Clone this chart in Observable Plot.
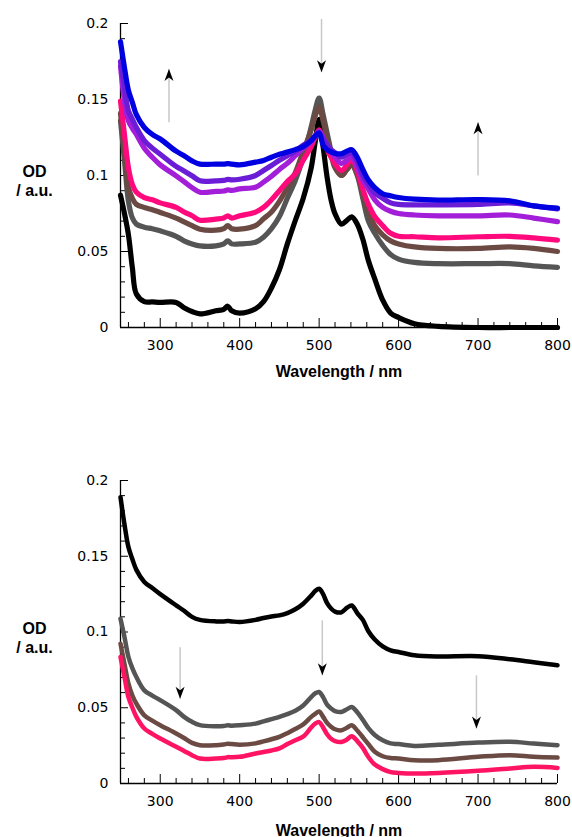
<!DOCTYPE html>
<html>
<head>
<meta charset="utf-8">
<script src="https://cdn.jsdelivr.net/npm/d3@7"></script>
<script src="https://cdn.jsdelivr.net/npm/@observablehq/plot@0.6"></script>
<style>
  html, body { margin: 0; padding: 0; background: #fff; }
  #chart svg { display: block; }
</style>
</head>
<body>
<div id="chart"></div>
<script>
// ---------- data ----------
const wavelengths = [250, 255, 260, 265, 270, 280, 290, 300, 320, 330, 340, 350, 370, 380, 385, 390, 400, 420, 430, 440, 450, 460, 470, 480, 490, 495, 500, 505, 510, 515, 520, 528, 535, 541, 548, 555, 562, 570, 580, 590, 600, 620, 650, 700, 740, 770, 800];

// top panel
const topBlack  = [.087, .075, .061, .039, .022, .017, .0168, .0165, .0165, .013, .0105, .009, .011, .012, .014, .011, .0095, .0123, .017, .026, .038, .055, .0704, .085, .105, .122, .137, .119, .099, .084, .0748, .068, .0705, .0728, .068, .058, .044, .032, .018, .0095, .0066, .0025, .0008, 0, 0, 0, 0];
const topGray   = [.136, .11, .083, .072, .068, .066, .065, .0636, .060, .057, .055, .0537, .0537, .055, .057, .055, .055, .0561, .0594, .065, .073, .085, .0967, .112, .132, .143, .151, .14, .128, .116, .106, .1, .104, .107, .1, .085, .07, .062, .054, .048, .045, .0428, .042, .042, .042, .0405, .0395];
const topBrown  = [.141, .115, .092, .085, .081, .079, .0775, .0757, .072, .0695, .067, .0647, .064, .065, .067, .065, .0647, .067, .0715, .076, .083, .092, .102, .116, .13, .139, .145, .136, .125, .114, .105, .1, .104, .107, .101, .088, .076, .067, .061, .057, .055, .053, .052, .052, .053, .052, .050];
const topPink   = [.149, .127, .105, .094, .089, .0855, .084, .082, .079, .076, .0735, .0706, .0713, .072, .0735, .072, .0735, .0759, .079, .084, .09, .096, .101, .11, .119, .125, .13, .124, .117, .112, .1077, .1033, .107, .111, .103, .091, .081, .073, .067, .062, .060, .0597, .059, .0597, .060, .059, .0575];
const topViolet = [.172, .149, .136, .131, .127, .118, .112, .107, .0998, .096, .092, .089, .0895, .0898, .0905, .0902, .0912, .0923, .0956, .0995, .104, .108, .113, .118, .122, .126, .129, .125, .12, .116, .112, .108, .11, .113, .105, .097, .091, .084, .079, .0765, .075, .074, .0735, .0735, .074, .072, .0697];
const topPurple = [.175, .158, .1425, .137, .1316, .123, .118, .114, .106, .103, .0998, .0965, .0965, .0968, .0974, .0971, .0975, .100, .1033, .1066, .11, .113, .116, .12, .123, .126, .128, .124, .12, .117, .115, .112, .114, .115, .109, .1, .094, .0885, .085, .082, .081, .0807, .0807, .081, .082, .080, .078];
const topBlue   = [.188, .171, .156, .148, .140, .1316, .127, .124, .116, .113, .1096, .1075, .1075, .1075, .1078, .1075, .107, .1088, .1099, .112, .114, .1154, .117, .119, .123, .126, .128, .12, .117, .1155, .1145, .1143, .116, .117, .112, .104, .097, .092, .088, .0866, .0855, .0844, .0838, .0842, .0833, .080, .0785];

// bottom panel
const botBlack  = [.189, .171, .156, .148, .141, .133, .129, .125, .1176, .114, .11, .108, .107, .107, .1072, .107, .1066, .108, .1092, .1102, .111, .1125, .115, .1187, .124, .127, .1286, .125, .119, .1155, .1135, .113, .116, .1175, .1125, .108, .1005, .095, .0905, .0879, .0868, .0846, .0838, .084, .082, .080, .078];
const botGray   = [.1088, .0967, .0835, .076, .0703, .0615, .058, .055, .0484, .044, .0407, .0385, .0378, .038, .0384, .0382, .0385, .0395, .041, .0425, .044, .0458, .048, .0515, .057, .0595, .0604, .057, .052, .0495, .0478, .0472, .049, .0505, .047, .042, .0365, .032, .0285, .0265, .026, .0248, .0255, .027, .0275, .0264, .0253];
const botBrown  = [.0923, .079, .066, .058, .0527, .045, .0415, .0385, .033, .030, .0268, .0253, .0253, .0258, .0262, .026, .0256, .0265, .0278, .0292, .0308, .0332, .036, .039, .044, .046, .0475, .044, .040, .0375, .0358, .0351, .0368, .0384, .035, .0305, .026, .021, .018, .0168, .0165, .0154, .0154, .0176, .0187, .0176, .0171];
const botPink   = [.0835, .0703, .057, .050, .044, .0363, .0328, .0297, .0242, .0215, .0187, .0165, .0165, .0168, .0174, .0173, .0176, .0198, .0208, .0218, .0232, .026, .0285, .031, .037, .0395, .0405, .037, .0325, .0295, .028, .0274, .029, .0312, .028, .0235, .0175, .0125, .0095, .0075, .007, .0066, .007, .0084, .0099, .011, .0103];

const topSeries = [
  {values: topBlack,  color: "#000000"},
  {values: topGray,   color: "#555555"},
  {values: topBrown,  color: "#6b4a44"},
  {values: topPink,   color: "#ff0a7c"},
  {values: topViolet, color: "#a21ed8"},
  {values: topPurple, color: "#6a1cd6"},
  {values: topBlue,   color: "#0000e0"}
];
const botSeries = [
  {values: botBlack, color: "#000000"},
  {values: botGray,  color: "#555555"},
  {values: botBrown, color: "#6b4a44"},
  {values: botPink,  color: "#ff1464"}
];

// arrows: wavelength, shaft start value, tip value
const topArrows = [
  {nm: 311, from: 0.135, to: 0.170},
  {nm: 503, from: 0.203, to: 0.168},
  {nm: 700, from: 0.100, to: 0.135}
];
const botArrows = [
  {nm: 325, from: 0.090, to: 0.056},
  {nm: 504, from: 0.1077, to: 0.0714},
  {nm: 698, from: 0.0714, to: 0.0363}
];

const xMajor = [300, 400, 500, 600, 700, 800];
const xMinor = d3.range(260, 801, 20).filter(v => v % 100 !== 0);
const yMajor = [0, 0.05, 0.1, 0.15, 0.2];
const yMinor = d3.range(1, 20).filter(k => k % 5 !== 0).map(k => k / 100);
const yLabel = "OD\n/ a.u.";
const xLabel = "Wavelength / nm";

// ---------- arrowhead symbols ----------
const headUp = {draw(ctx) { ctx.moveTo(0, 0); ctx.lineTo(4.5, 12); ctx.lineTo(0, 8.5); ctx.lineTo(-4.5, 12); ctx.closePath(); }};
const headDown = {draw(ctx) { ctx.moveTo(0, 0); ctx.lineTo(4.5, -12); ctx.lineTo(0, -8.5); ctx.lineTo(-4.5, -12); ctx.closePath(); }};

function rows(values) {
  return wavelengths.map((w, i) => ({wl: w, od: values[i]}));
}

function panel(series, arrows, {height, marginTop, marginBottom, strokeWidth, labelDy}) {
  const labelFont = {fontFamily: "Liberation Sans, Arial, sans-serif", fontWeight: "bold", fontSize: 16};
  return Plot.plot({
    width: 572,
    height,
    marginTop,
    marginBottom,
    marginLeft: 120,
    marginRight: 15,
    style: {fontFamily: "DejaVu Sans, sans-serif", fontSize: "14px", background: "white", color: "black", overflow: "visible"},
    x: {domain: [250, 800]},
    y: {domain: [0, 0.2]},
    marks: [
      Plot.axisX({ticks: xMinor, tickSize: -5, tickFormat: () => "", label: null, strokeWidth: 1}),
      Plot.axisX({ticks: xMajor, tickSize: -9, tickPadding: 22, tickFormat: d => String(d), label: null, strokeWidth: 1}),
      Plot.axisY({ticks: yMinor, tickSize: -5, tickFormat: () => "", label: null, strokeWidth: 1}),
      Plot.axisY({ticks: yMajor, tickSize: -8, tickPadding: 20, tickFormat: d => String(d), label: null, strokeWidth: 1}),
      Plot.ruleY([0], {stroke: "black", strokeWidth: 1.3}),
      Plot.ruleX([250], {y1: 0, y2: 0.2, stroke: "black", strokeWidth: 1.3}),
      ...series.map(s => Plot.line(rows(s.values), {
        x: "wl", y: "od", stroke: s.color, strokeWidth, curve: "catmull-rom",
        strokeLinecap: "round", strokeLinejoin: "round"
      })),
      Plot.link(arrows, {x1: "nm", x2: "nm", y1: "from", y2: "to", stroke: "#c8c8c8", strokeWidth: 1.5}),
      Plot.dot(arrows.filter(a => a.to > a.from), {x: "nm", y: "to", symbol: headUp, fill: "black", stroke: null}),
      Plot.dot(arrows.filter(a => a.to < a.from), {x: "nm", y: "to", symbol: headDown, fill: "black", stroke: null}),
      Plot.text([yLabel], {text: d => d, frameAnchor: "left", dx: -86, dy: 5, textAnchor: "middle", lineHeight: 1.2, ...labelFont}),
      Plot.text([xLabel], {text: d => d, frameAnchor: "bottom", dy: labelDy, textAnchor: "middle", lineAnchor: "middle", ...labelFont})
    ]
  });
}

const chart = document.getElementById("chart");
chart.appendChild(panel(topSeries, topArrows, {height: 400, marginTop: 23, marginBottom: 73, strokeWidth: 5.2, labelDy: 44}));
chart.appendChild(panel(botSeries, botArrows, {height: 437, marginTop: 80, marginBottom: 54, strokeWidth: 4.5, labelDy: 47}));
</script>
</body>
</html>
